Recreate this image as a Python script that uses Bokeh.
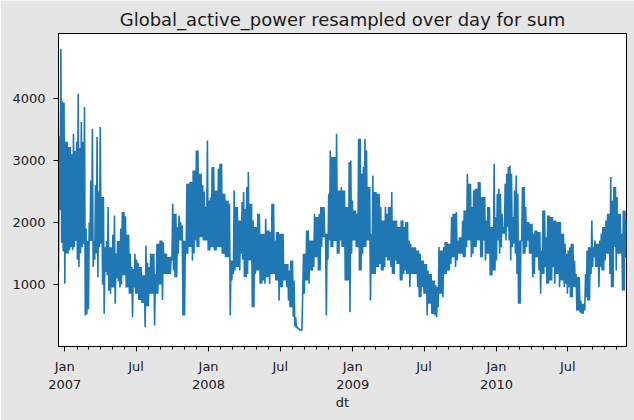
import numpy as np
import pandas as pd
from bokeh.plotting import figure
from bokeh.models import ColumnDataSource, Range1d, FixedTicker
from bokeh.embed import file_html
from bokeh.resources import INLINE

# ---- data ----
# For every 4-day stretch from 2006-12-16: the low and the high of the daily sums.
start_date = "2006-12-16"
step_days = 4

low_2007 = [1209, 2200, 1670, 1530, 1010, 1500, 1500, 1550, 1600, 1550,
            1600, 1700, 1400, 1280, 1500, 1600, 1650, 500, 520, 600,
            1700, 1700, 1280, 1400, 1500, 1118, 1600, 1655, 1000, 527,
            1200, 1150, 900, 850, 950, 950, 688, 1100, 1050, 950,
            1000, 1150, 1150, 950, 950, 850, 850, 473, 950, 850,
            850, 750, 750, 700, 700, 312, 650, 650, 850, 850,
            850, 338, 850, 850, 1000, 1000, 750, 1170, 1170, 1170,
            1170, 1170, 1387, 1230, 1118, 1118, 1494, 1710, 1710, 500,
            500, 1494, 1494, 1602, 1602, 1387, 1500, 1710, 1602, 1602,
            1760, 1760, 1710]
high_2007 = [3390, 4800, 3950, 3930, 3300, 3300, 3215, 3215, 3100, 3430,
             3150, 3300, 4075, 3200, 3620, 3300, 3860, 1900, 1700, 2000,
             2677, 3510, 1700, 2600, 3376, 2500, 3537, 2408, 2408, 1600,
             1700, 2247, 1600, 1600, 1800, 2113, 1500, 1700, 1700, 1900,
             2167, 2167, 2100, 1800, 1800, 1500, 1280, 1250, 1494, 1400,
             1350, 1280, 1280, 1150, 1150, 1629, 1350, 1280, 1494, 1494,
             1494, 1170, 1655, 1655, 1710, 1710, 1680, 1500, 1500, 1440,
             1440, 1450, 2301, 2140, 2140, 1925, 2113, 2006, 1950, 1710,
             1700, 2623, 2623, 2650, 2650, 2838, 2838, 3161, 3161, 2785,
             2785, 2600, 2500]

low_2008 = [1710, 1710, 1548, 1548, 1600, 1600, 1548, 1548, 1600, 1600,
            1600, 1494, 1494, 1440, 1440, 1440, 500, 1064, 1170, 1226,
            1280, 1280, 1226, 1494, 1400, 1118, 1118, 1170, 1387, 1387,
            634, 634, 1170, 1226, 1226, 1010, 1010, 1064, 1010, 1118,
            1118, 1010, 1170, 1170, 1170, 1064, 1064, 742, 957, 957,
            1064, 1064, 957, 742, 634, 634, 474, 322, 300, 280,
            265, 258, 850, 850, 1064, 1064, 1010, 1226, 1226, 1280,
            1440, 1440, 1226, 1226, 1602, 1760, 1760, 500, 1400, 1710,
            1602, 1602, 1700, 1700, 1494, 1494, 1710, 1602, 1602, 1064,
            1064, 1064]
high_2008 = [2247, 3322, 2354, 2400, 2892, 2892, 2516, 2516, 2866, 2946,
             2946, 2462, 2462, 2354, 2354, 2300, 1387, 1387, 2516, 2247,
             2247, 2032, 2032, 2328, 2489, 2220, 2570, 2811, 2301, 2301,
             2030, 1925, 1925, 2140, 2140, 1817, 1817, 1817, 2059, 1870,
             1870, 1845, 2301, 2301, 1710, 1845, 1845, 1817, 1817, 1817,
             1330, 1330, 1330, 1226, 1387, 1387, 1064, 474, 322, 290,
             270, 265, 1494, 1494, 1871, 1871, 1710, 1710, 1710, 2140,
             2086, 2086, 2140, 2247, 2247, 2247, 1817, 1817, 2462, 3161,
             3054, 3054, 3054, 3430, 2516, 2516, 2570, 2516, 2516, 2247,
             2247, 2973]

low_2009 = [554, 1494, 1710, 1710, 1602, 1602, 1226, 1226, 1494, 1602,
            1602, 1710, 1710, 742, 1170, 1170, 1170, 1280, 1280, 1330,
            1226, 1226, 1280, 1440, 1387, 1387, 1280, 1170, 1170, 1387,
            1330, 1330, 1064, 1064, 1170, 1226, 1170, 1170, 957, 1170,
            1170, 1170, 1170, 957, 795, 795, 957, 850, 850, 500,
            690, 690, 526, 526, 500, 473, 634, 850, 850, 795,
            1170, 1170, 1226, 1226, 1330, 1440, 1440, 1280, 1387, 1494,
            1494, 1494, 1440, 1440, 1602, 1710, 1710, 1440, 1494, 1602,
            1602, 1710, 1710, 1440, 1440, 1710, 1387, 1494, 1494]
high_2009 = [2999, 2354, 2193, 2193, 2140, 3349, 3349, 2785, 2892, 3349,
             3161, 2570, 2570, 1817, 2758, 2489, 2489, 2462, 2462, 2247,
             2030, 2030, 2247, 2140, 2247, 2247, 2489, 2030, 2030, 2030,
             1925, 1925, 2030, 2030, 1925, 2006, 2006, 1710, 1655, 1600,
             1600, 1600, 1548, 1548, 1494, 1387, 1387, 1330, 1330, 1226,
             1170, 1170, 1064, 1064, 985, 957, 1602, 1548, 1548, 1602,
             1683, 1683, 1655, 1655, 2086, 2140, 2140, 2167, 1710, 1760,
             1760, 2032, 2193, 2193, 2785, 2623, 2623, 2247, 2516, 2543,
             2543, 2650, 2650, 2408, 2408, 2408, 2030, 2247, 2247]

low_2010 = [1145, 1145, 1226, 1226, 1387, 1710, 1494, 1602, 1817, 1817,
            1710, 1925, 1710, 1387, 1602, 1655, 1494, 1170, 688, 688,
            1710, 1494, 1494, 1602, 1710, 1494, 1494, 1118, 1170, 1440,
            1440, 1226, 849, 1170, 1170, 1280, 1010, 1010, 1064, 1064,
            1280, 1010, 1170, 1170, 957, 1064, 1064, 957, 1010, 850,
            957, 795, 795, 957, 957, 580, 580, 550, 527, 527,
            580, 795, 742, 742, 1170, 1280, 1440, 1280, 1280, 957,
            1280, 1226, 1226, 1387, 1494, 1494, 1170, 957, 957, 1602,
            1226, 1494, 1494, 1494, 903, 903, 1440]
high_2010 = [1925, 1925, 2946, 2086, 2462, 2543, 2462, 2140, 1925, 2623,
             2785, 2892, 2919, 2785, 2086, 2516, 2758, 2462, 1710, 1710,
             2570, 2570, 2247, 2006, 2006, 1979, 1979, 1817, 1870, 1870,
             1845, 1845, 1548, 2193, 2193, 1760, 2113, 2113, 2086, 2086,
             2032, 2032, 2006, 2006, 2006, 1817, 1817, 1655, 1494, 1548,
             1600, 1655, 1655, 1387, 1170, 1118, 1118, 740, 690, 690,
             1170, 1548, 1600, 1600, 2032, 1600, 1710, 1655, 1655, 1710,
             1817, 1925, 1925, 2032, 2140, 2140, 2731, 2354, 2570, 2570,
             2408, 2140, 2140, 1817, 2193, 2193, 2032]

major_tick_dates = ["2007-01-01", "2007-07-01", "2008-01-01", "2008-07-01",
                    "2009-01-01", "2009-07-01", "2010-01-01", "2010-07-01"]
major_tick_labels = ["Jan\n2007", "Jul", "Jan\n2008", "Jul",
                     "Jan\n2009", "Jul", "Jan\n2010", "Jul"]
y_ticks = [1000, 2000, 3000, 4000]
title_text = "Global_active_power resampled over day for sum"
x_label = "dt"

# ---- build the series: low then high inside every 4-day stretch ----
lows = low_2007 + low_2008 + low_2009 + low_2010
highs = high_2007 + high_2008 + high_2009 + high_2010
values = []
for lo, hi in zip(lows, highs):
    values.extend([lo, hi])
dates = pd.Timestamp(start_date) + pd.to_timedelta(np.arange(len(values)) * (step_days // 2), unit="D")
src = ColumnDataSource(dict(dt=dates, v=values))

def ms(d):
    return int(pd.Timestamp(d).value // 10**6)

BG = "#e5e5e5"
FONT = "DejaVu Sans"
TXT = "#1a1a1a"

p = figure(width=634, height=420, x_axis_type="datetime",
           output_backend="svg", toolbar_location=None,
           x_range=Range1d(dates[0].to_pydatetime(), dates[-1].to_pydatetime()),
           y_range=Range1d(0, 5045),
           min_border_left=58, min_border_right=8,
           min_border_top=33, min_border_bottom=74,
           background_fill_color="white", border_fill_color=BG)

p.line("dt", "v", source=src, line_color="#1f77b4", line_width=1.6)

p.title.text = title_text
p.title.align = "center"
p.title.text_font = FONT
p.title.text_font_size = "18px"
p.title.text_font_style = "normal"
p.title.text_color = TXT
p.title.standoff = 8

p.xgrid.visible = False
p.ygrid.visible = False
p.outline_line_color = "black"
p.outline_line_width = 1
p.outline_line_alpha = 1

minor = [ms(d) for d in pd.date_range("2007-01-01", "2010-11-01", freq="MS")]
p.xaxis.ticker = FixedTicker(ticks=[ms(d) for d in major_tick_dates], minor_ticks=minor)
p.xaxis.major_label_overrides = {ms(d): lab for d, lab in zip(major_tick_dates, major_tick_labels)}
p.yaxis.ticker = FixedTicker(ticks=y_ticks)

for ax in (p.xaxis[0], p.yaxis[0]):
    ax.axis_line_color = "black"
    ax.axis_line_width = 1
    ax.major_tick_line_color = "black"
    ax.minor_tick_line_color = "black"
    ax.major_tick_in = 0
    ax.major_tick_out = 5
    ax.minor_tick_in = 0
    ax.minor_tick_out = 3
    ax.major_label_text_font = FONT
    ax.major_label_text_font_size = "13px"
    ax.major_label_text_color = TXT

p.xaxis.major_label_standoff = 7
p.yaxis.major_label_standoff = 8
p.yaxis.minor_tick_line_color = None
p.xaxis.axis_label = x_label
p.xaxis.axis_label_text_font = FONT
p.xaxis.axis_label_text_font_size = "13px"
p.xaxis.axis_label_text_font_style = "normal"
p.xaxis.axis_label_text_color = TXT
p.xaxis.axis_label_standoff = 0

html = file_html(p, INLINE, title=title_text)
html = html.replace("<body>", '<body style="background-color:%s;">' % BG, 1)
open("out.html", "w").write(html)
